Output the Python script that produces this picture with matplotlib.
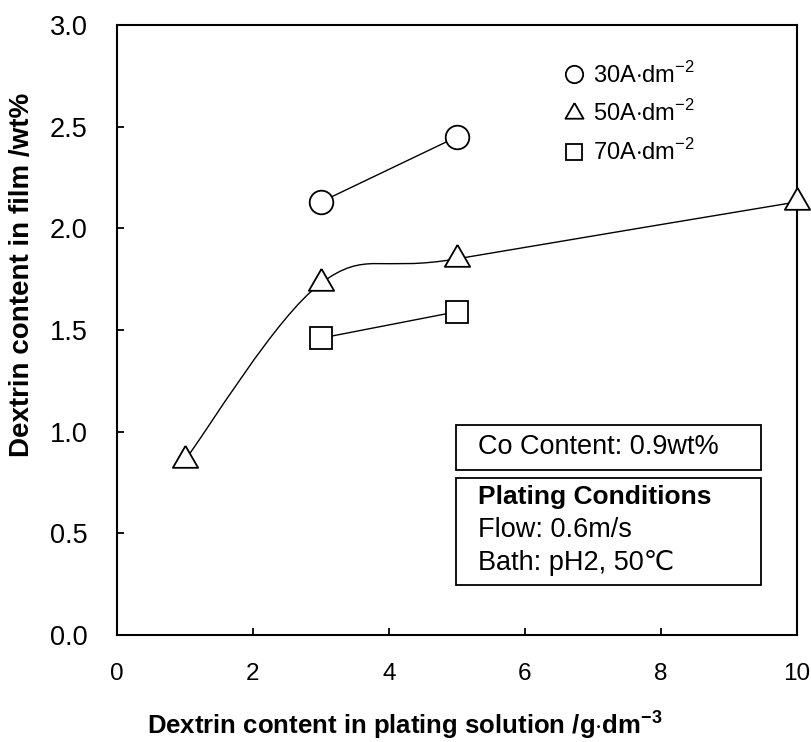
import matplotlib
matplotlib.use("Agg")
import matplotlib.pyplot as plt
from matplotlib import font_manager
from matplotlib.path import Path
from matplotlib.patches import PathPatch, Rectangle
from matplotlib.lines import Line2D

# 30 A/dm2
x_30 = [3, 5]
y_30 = [2.13, 2.45]
# 50 A/dm2
x_50 = [1, 3, 5, 10]
y_50 = [0.86, 1.73, 1.85, 2.13]
# 70 A/dm2
x_70 = [3, 5]
y_70 = [1.46, 1.59]

x_ticks = [0, 2, 4, 6, 8, 10]
y_ticks = [0.0, 0.5, 1.0, 1.5, 2.0, 2.5, 3.0]
labels = ["30A$\\cdot$dm$^{-2}$", "50A$\\cdot$dm$^{-2}$", "70A$\\cdot$dm$^{-2}$"]

plt.rcParams["font.family"] = ["Liberation Sans", "DejaVu Sans"]
plt.rcParams["mathtext.fontset"] = "custom"
plt.rcParams["mathtext.rm"] = "Liberation Sans"
plt.rcParams["mathtext.bf"] = "Liberation Sans:bold"

# condensed face for the x axis, if installed
names = {f.name for f in font_manager.fontManager.ttflist}
NARROW = ["Liberation Sans Narrow"] if "Liberation Sans Narrow" in names else ["Liberation Sans"]

# equilateral triangle marker
TRI = [(0, 0.577), (-0.5, -0.289), (0.5, -0.289), (0, 0.577)]


def smooth_path(xs, ys):
    """Bezier smoothing like a spreadsheet 'smoothed line' (1/6 tangent factor)."""
    pts = list(zip(xs, ys))
    verts = [pts[0]]
    codes = [Path.MOVETO]
    n = len(pts)
    for i in range(n - 1):
        p0 = pts[max(i - 1, 0)]
        p1 = pts[i]
        p2 = pts[i + 1]
        p3 = pts[min(i + 2, n - 1)]
        c1 = (p1[0] + (p2[0] - p0[0]) / 6, p1[1] + (p2[1] - p0[1]) / 6)
        c2 = (p2[0] - (p3[0] - p1[0]) / 6, p2[1] - (p3[1] - p1[1]) / 6)
        verts += [c1, c2, p2]
        codes += [Path.CURVE4] * 3
    return Path(verts, codes)


fig = plt.figure(figsize=(8.12, 7.42), dpi=100)
ax = fig.add_axes([0.144, 0.1442, 0.8375, 0.8221])

mk = dict(markerfacecolor="white", markeredgecolor="black",
          markeredgewidth=1.3, linestyle="none", zorder=3, clip_on=False)
ax.plot(x_30, y_30, color="black", lw=1.0, zorder=2)
ax.add_patch(PathPatch(smooth_path(x_50, y_50), facecolor="none",
                       edgecolor="black", lw=1.0, zorder=2))
ax.plot(x_70, y_70, color="black", lw=1.0, zorder=2)
ax.plot(x_30, y_30, marker="o", markersize=17, **mk)
ax.plot(x_50, y_50, marker=TRI, markersize=21, **mk)
ax.plot(x_70, y_70, marker="s", markersize=16, **mk)

ax.set_xlim(0, 10)
ax.set_ylim(0, 3)
ax.set_xticks(x_ticks)
ax.set_yticks(y_ticks)
ax.set_xticklabels([str(v) for v in x_ticks], fontfamily=NARROW, fontsize=17.5)
ax.set_yticklabels([f"{v:.1f}" for v in y_ticks], fontsize=19.5)
ax.tick_params(direction="in", length=5, width=1.3, top=False, right=False)
ax.tick_params(axis="x", pad=20)
ax.tick_params(axis="y", pad=21)
for s in ax.spines.values():
    s.set_linewidth(1.5)

ax.set_xlabel("Dextrin content in plating solution /g$\\cdot$dm$^{\\mathbf{-3}}$",
              fontsize=18.5, fontweight="bold", va="center")
ax.xaxis.set_label_coords(0.424, -0.146)
ax.set_ylabel("Dextrin content in film /wt%", fontsize=20, fontweight="bold",
              va="center", fontfamily=NARROW)
ax.yaxis.set_label_coords(-0.14, 0.59)

handles = [
    Line2D([], [], marker="o", markersize=12.5, markerfacecolor="white",
           markeredgecolor="black", markeredgewidth=1.3, linestyle="none"),
    Line2D([], [], marker=TRI, markersize=15, markerfacecolor="white",
           markeredgecolor="black", markeredgewidth=1.3, linestyle="none"),
    Line2D([], [], marker="s", markersize=11.5, markerfacecolor="white",
           markeredgecolor="black", markeredgewidth=1.3, linestyle="none"),
]
ax.legend(handles, labels, loc="upper left", bbox_to_anchor=(0.623, 0.975),
          frameon=False, fontsize=17, handlelength=1.0, handletextpad=0.3,
          labelspacing=0.55)

# note boxes
for (x0, y0, x1, y1) in [(0.4985, 0.2705, 0.947, 0.344),
                         (0.4985, 0.082, 0.947, 0.2574)]:
    ax.add_patch(Rectangle((x0, y0), x1 - x0, y1 - y0, transform=ax.transAxes,
                           facecolor="white", edgecolor="black", lw=1.3, zorder=4))
ax.text(0.531, 0.308, "Co Content: 0.9wt%", transform=ax.transAxes,
        fontsize=19.5, va="center", ha="left", zorder=5)
ax.text(0.531, 0.226, "Plating Conditions", transform=ax.transAxes,
        fontsize=19, fontweight="bold", va="center", ha="left", zorder=5)
ax.text(0.531, 0.172, "Flow: 0.6m/s", transform=ax.transAxes,
        fontsize=19.5, va="center", ha="left", zorder=5)
ax.text(0.531, 0.118, "Bath: pH2, 50\u2103", transform=ax.transAxes,
        fontsize=19.5, va="center", ha="left", zorder=5)

fig.savefig("out.png", dpi=100)
